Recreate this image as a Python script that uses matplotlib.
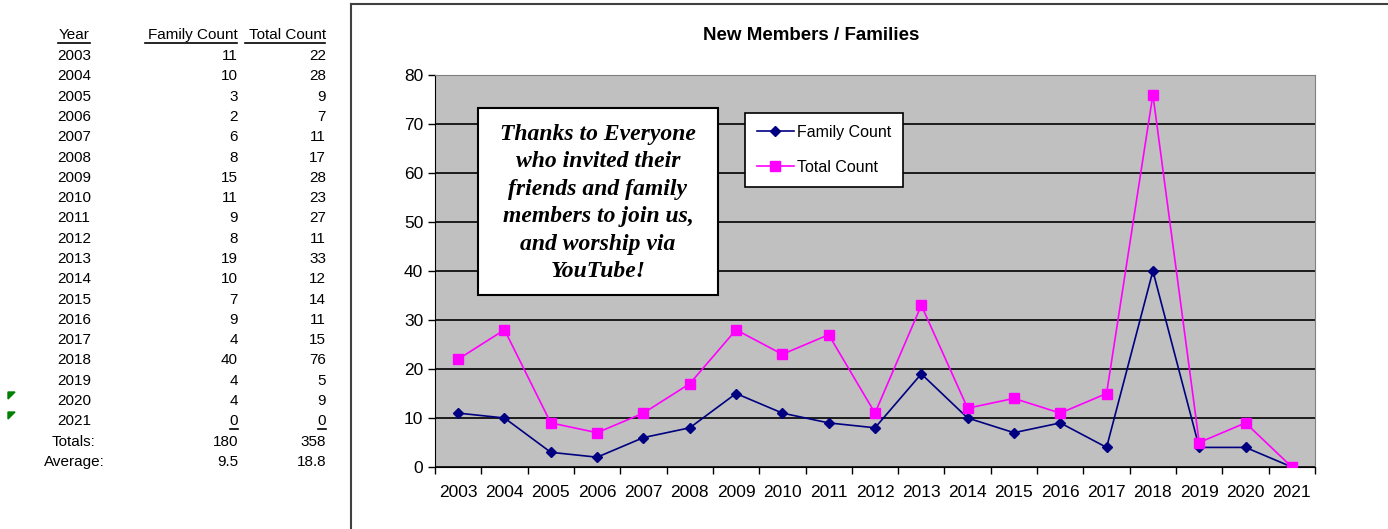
import matplotlib
matplotlib.use("Agg")
from matplotlib import pyplot as plt
from matplotlib.lines import Line2D
from matplotlib.patches import Polygon, Rectangle
import numpy as np

years = [2003, 2004, 2005, 2006, 2007, 2008, 2009, 2010, 2011, 2012,
         2013, 2014, 2015, 2016, 2017, 2018, 2019, 2020, 2021]
family_count = [11, 10, 3, 2, 6, 8, 15, 11, 9, 8, 19, 10, 7, 9, 4, 40, 4, 4, 0]
total_count = [22, 28, 9, 7, 11, 17, 28, 23, 27, 11, 33, 12, 14, 11, 15, 76, 5, 9, 0]
y_ticks = [0, 10, 20, 30, 40, 50, 60, 70, 80]

note = ("Thanks to Everyone\nwho invited their\nfriends and family\n"
        "members to join us,\nand worship via\nYouTube!")

W, H = 1388, 529
plt.rcParams['font.family'] = ['Liberation Sans', 'DejaVu Sans']
fig = plt.figure(figsize=(W / 100, H / 100), dpi=100)
fig.patch.set_facecolor('white')


def fx(x):
    return x / W


def fy(y):
    return 1 - y / H


# ---- table on the left ----
tfs = 11
fig.text(fx(74), fy(35), "Year", ha='center', va='center', fontsize=tfs)
fig.text(fx(238), fy(35), "Family Count", ha='right', va='center', fontsize=tfs)
fig.text(fx(326), fy(35), "Total Count", ha='right', va='center', fontsize=tfs)
for x0, x1 in [(58, 90), (145, 237), (245, 325)]:
    fig.add_artist(Line2D([fx(x0), fx(x1)], [fy(43), fy(43)], color='black', lw=1.2))

row_h = 20.3
for i, yr in enumerate(years):
    yy = 56 + i * row_h
    fig.text(fx(74), fy(yy), str(yr), ha='center', va='center', fontsize=tfs)
    fig.text(fx(238), fy(yy), str(family_count[i]), ha='right', va='center', fontsize=tfs)
    fig.text(fx(326), fy(yy), str(total_count[i]), ha='right', va='center', fontsize=tfs)

last_y = 56 + (len(years) - 1) * row_h
for xr in (238, 326):
    fig.add_artist(Line2D([fx(xr - 8), fx(xr)], [fy(last_y + 8), fy(last_y + 8)],
                          color='black', lw=1.2))

n = len(years)
tot_y = last_y + row_h
fig.text(fx(74), fy(tot_y), "Totals:", ha='center', va='center', fontsize=tfs)
fig.text(fx(238), fy(tot_y), str(sum(family_count)), ha='right', va='center', fontsize=tfs)
fig.text(fx(326), fy(tot_y), str(sum(total_count)), ha='right', va='center', fontsize=tfs)
avg_y = tot_y + row_h
fig.text(fx(74), fy(avg_y), "Average:", ha='center', va='center', fontsize=tfs)
fig.text(fx(238), fy(avg_y), "%.1f" % (sum(family_count) / n), ha='right', va='center', fontsize=tfs)
fig.text(fx(326), fy(avg_y), "%.1f" % (sum(total_count) / n), ha='right', va='center', fontsize=tfs)

# little green comment markers
for ty in (392, 412):
    fig.add_artist(Polygon([(fx(8), fy(ty)), (fx(15), fy(ty)), (fx(8), fy(ty + 7))],
                           closed=True, color='green', transform=fig.transFigure))

# ---- chart frame ----
fig.add_artist(Line2D([fx(351), fx(351)], [fy(4), fy(H)], color='#404040', lw=1.5))
fig.add_artist(Line2D([fx(351), fx(W)], [fy(4), fy(4)], color='#404040', lw=1.5))

# ---- chart ----
ax = fig.add_axes([fx(435), fy(467), fx(1315) - fx(435), (467 - 75) / H])
ax.set_facecolor('#C0C0C0')
x = np.arange(n)
ax.plot(x, family_count, color='#000080', marker='D', markersize=5, lw=1.2,
        label='Family Count', zorder=3)
ax.plot(x, total_count, color='#FF00FF', marker='s', markersize=6.5, lw=1.2,
        label='Total Count', zorder=3)

ax.set_xlim(-0.5, n - 0.5)
ax.set_ylim(0, 80)
ax.set_yticks(y_ticks)
ax.yaxis.grid(True, color='black', lw=1.2)
ax.set_axisbelow(True)
ax.set_xticks(x)
ax.set_xticklabels([str(v) for v in years], fontsize=12.5)
ax.set_xticks(np.arange(-0.5, n, 1), minor=True)
ax.tick_params(axis='x', which='major', length=0, pad=13)
ax.tick_params(axis='x', which='minor', length=5, width=1, direction='out')
ax.tick_params(axis='y', labelsize=12.5, length=5, width=1, direction='out')
for s in ('top', 'right'):
    ax.spines[s].set_color('#808080')
ax.spines['left'].set_color('black')
ax.spines['bottom'].set_color('black')

fig.text(fx(811), fy(35), "New Members / Families", ha='center', va='center',
         fontsize=13.5, fontweight='bold')

# note box
fig.add_artist(Rectangle((fx(478), fy(295)), fx(718) - fx(478), (295 - 108) / H,
                         facecolor='white', edgecolor='black', lw=1.5,
                         transform=fig.transFigure, zorder=4))
fig.text(fx(598), fy(203), note, ha='center', va='center',
         family=['Liberation Serif', 'DejaVu Serif'], style='italic', fontweight='bold',
         fontsize=17, linespacing=1.4, zorder=5)

leg = ax.legend(loc='upper left', bbox_to_anchor=(fx(745), fy(113)),
                bbox_transform=fig.transFigure, fontsize=11.5, frameon=True,
                fancybox=False, edgecolor='black', framealpha=1, borderaxespad=0,
                handlelength=2.3, handletextpad=0.2, borderpad=0.75, labelspacing=1.25)
leg.get_frame().set_linewidth(1.2)

fig.savefig('out.png', dpi=100)
